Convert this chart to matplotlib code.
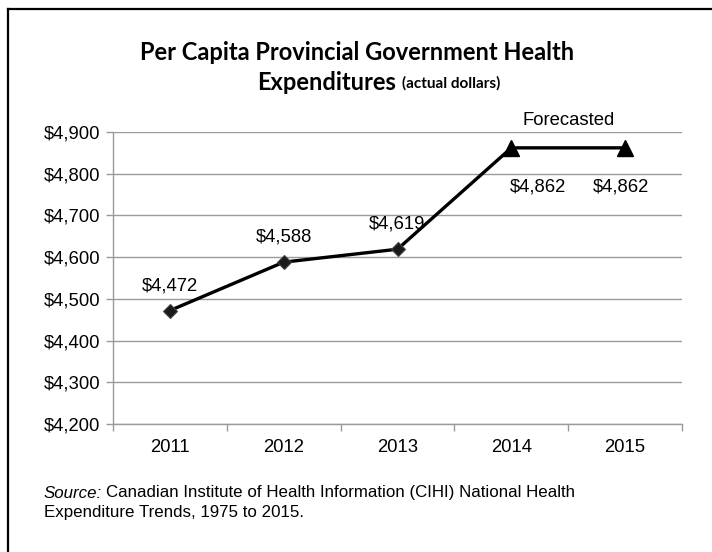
import matplotlib
matplotlib.use("Agg")
import matplotlib.pyplot as plt
from matplotlib.lines import Line2D

years = ["2011", "2012", "2013", "2014", "2015"]
spending = [4472, 4588, 4619, 4862, 4862]
value_labels = ["$4,472", "$4,588", "$4,619", "$4,862", "$4,862"]
y_ticks = [4200, 4300, 4400, 4500, 4600, 4700, 4800, 4900]
y_tick_labels = ["$4,200", "$4,300", "$4,400", "$4,500", "$4,600", "$4,700", "$4,800", "$4,900"]
forecast_start = 3  # index of first forecast year

W, H = 712, 552
fig = plt.figure(figsize=(W / 100, H / 100), dpi=100)
fig.patch.set_facecolor("white")

# frame lines along the top and left edges
fig.add_artist(Line2D([8 / W, 1], [1 - 9 / H, 1 - 9 / H], color="black", lw=1.6))
fig.add_artist(Line2D([8 / W, 8 / W], [1 - 9 / H, 0], color="black", lw=1.6))

ax = fig.add_axes([113 / W, 1 - 424 / H, (682 - 113) / W, (424 - 132) / H])
x = list(range(len(years)))

FS = 13.3
FAM = "Liberation Sans"
grid_c = "#9a9a9a"
ax.set_ylim(4200, 4900)
ax.set_xlim(-0.5, len(years) - 0.5)
ax.set_yticks(y_ticks)
ax.set_yticklabels(y_tick_labels, fontsize=FS, family=FAM)
ax.yaxis.grid(True, color=grid_c, lw=1)
ax.set_axisbelow(True)
ax.tick_params(axis="y", length=5, width=1, color=grid_c, pad=4)

# category labels centred, ticks at category boundaries
ax.set_xticks(x)
ax.set_xticklabels(years, fontsize=FS, family=FAM)
ax.tick_params(axis="x", length=0, pad=11)
ax.set_xticks([i - 0.5 for i in range(len(years) + 1)], minor=True)
ax.tick_params(axis="x", which="minor", length=5, width=1, color=grid_c)

for s in ["top", "right"]:
    ax.spines[s].set_visible(False)
for s in ["left", "bottom"]:
    ax.spines[s].set_color(grid_c)
    ax.spines[s].set_linewidth(1)

ax.plot(x, spending, color="black", lw=2.4, zorder=3)
ax.plot(x[:forecast_start], spending[:forecast_start], ls="none", marker="D",
        ms=7.5, mfc="#1a1a1a", mec="#444444", mew=0.8, zorder=4)
ax.plot(x[forecast_start:], spending[forecast_start:], ls="none", marker="^",
        ms=12, mfc="black", mec="black", zorder=4)

label_offsets = [(0, 18), (0, 18), (0, 18), (19, -28), (-3, -28)]
for xi, v, lab, off in zip(x, spending, value_labels, label_offsets):
    ax.annotate(lab, (xi, v), xytext=off, textcoords="offset points",
                ha="center", va="center", fontsize=FS, family=FAM)

ax.annotate("Forecasted", (3.5, 4900), xytext=(0, 8), textcoords="offset points",
            ha="center", va="center", fontsize=FS, family=FAM)

# title
fig.text(357 / W, 1 - 52 / H, "Per Capita Provincial Government Health",
         ha="center", va="center", fontsize=17, fontweight="bold", family="Lato")
fig.text(396 / W, 1 - 82 / H, "Expenditures", ha="right", va="center",
         fontsize=17, fontweight="bold", family="Lato")
fig.text(402 / W, 1 - 83 / H, "(actual dollars)", ha="left", va="center",
         fontsize=11, fontweight="bold", family="Lato")

# source note: italic lead-in followed by the citation
SFS = 12.2
src = fig.text(44 / W, 1 - 493 / H, "Source:", ha="left", va="center", fontsize=SFS,
               style="italic", family=FAM)
ax.annotate("Canadian Institute of Health Information (CIHI) National Health",
            xy=(1, 0.5), xycoords=src, xytext=(3, 0), textcoords="offset points",
            ha="left", va="center", fontsize=SFS, family=FAM, annotation_clip=False)
fig.text(44 / W, 1 - 513 / H, "Expenditure Trends, 1975 to 2015.",
         ha="left", va="center", fontsize=SFS, family=FAM)

fig.savefig("out.png", dpi=100, facecolor="white")
